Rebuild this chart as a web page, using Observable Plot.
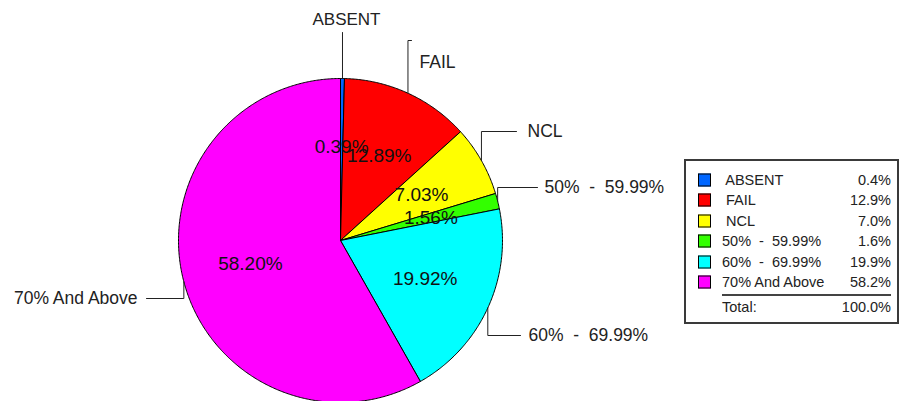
<!DOCTYPE html>
<html><head><meta charset="utf-8">
<script src="https://cdn.jsdelivr.net/npm/d3@7"></script>
<script src="https://cdn.jsdelivr.net/npm/@observablehq/plot@0.6"></script>
<style>
html,body{margin:0;padding:0;background:#fff;}
#wrap{position:relative;width:902px;height:401px;overflow:hidden;font-family:"Liberation Sans",Arial,sans-serif;}
#wrap svg{position:absolute;left:0;top:0;}
#legend{position:absolute;left:684px;top:159px;width:215px;height:165px;box-sizing:border-box;border:2px solid #3a3a3a;background:#fff;font-size:14.5px;color:#222;}
#legend .it{position:absolute;white-space:pre;line-height:1;transform:translateY(-50%);}
#legend .sw{position:absolute;width:13px;height:13px;box-sizing:border-box;border:1px solid #000;transform:translateY(-50%);}
#legend .val{text-align:right;}
#legend .rule{position:absolute;height:2px;background:#444;}
</style></head><body><div id="wrap"></div>
<script>
// ---- data ----
const categories = ["ABSENT", "FAIL", "NCL", "50%  -  59.99%", "60%  -  69.99%", "70% And Above"];
const percents = [0.39, 12.89, 7.03, 1.56, 19.92, 58.20];
const legendLabels = [" ABSENT", " FAIL", " NCL", "50%  -  59.99%", "60%  -  69.99%", "70% And Above"];
const legendValues = ["0.4%", "12.9%", "7.0%", "1.6%", "19.9%", "58.2%"];
const totalLabel = "Total:";
const totalValue = "100.0%";
const colors = ["#0066ff", "#ff0000", "#ffff00", "#33ff00", "#00ffff", "#ff00ff"];

// ---- layout (pixels) ----
const W = 902, H = 401, R = 162, CX = 340, CY = 240;
const px = v => (v - CX) / R;
const py = v => (CY - v) / R;
const leaderLayout = [
  {knee: 32,  end: null, lx: 346, ly: 19,  anchor: "middle"},
  {knee: 40,  end: 411,  lx: 419, ly: 62,  anchor: "start"},
  {knee: 131, end: 516,  lx: 527, ly: 131, anchor: "start"},
  {knee: 187, end: 537,  lx: 544, ly: 187, anchor: "start"},
  {knee: 335, end: 520,  lx: 528, ly: 335, anchor: "start"},
  {knee: 298, end: 146,  lx: 137, ly: 298, anchor: "end"}
];

const total = d3.sum(percents);
let acc = 0;
const slices = categories.map((name, i) => {
  const a0 = acc / total * 2 * Math.PI; acc += percents[i];
  const a1 = acc / total * 2 * Math.PI;
  return {name, i, a0, a1, mid: (a0 + a1) / 2, pct: percents[i]};
});

const wedgePts = [];
for (const s of slices) {
  wedgePts.push({name: s.name, x: 0, y: 0});
  const n = Math.max(2, Math.ceil((s.a1 - s.a0) / (Math.PI / 360)));
  for (let k = 0; k <= n; k++) {
    const a = s.a0 + (s.a1 - s.a0) * k / n;
    wedgePts.push({name: s.name, x: Math.sin(a), y: Math.cos(a)});
  }
  wedgePts.push({name: s.name, x: 0, y: 0});
}

const inner = slices.map(s => ({x: 0.575 * Math.sin(s.mid), y: 0.575 * Math.cos(s.mid), text: s.pct.toFixed(2) + "%"}));

const leaderPts = [], outer = [];
slices.forEach((s, i) => {
  const L = leaderLayout[i];
  const ex = Math.sin(s.mid), ey = Math.cos(s.mid);
  const ky = py(L.knee);
  leaderPts.push({id: i, x: ex, y: ey}, {id: i, x: ex, y: ky});
  if (L.end !== null) leaderPts.push({id: i, x: px(L.end), y: ky});
  outer.push({x: px(L.lx), y: py(L.ly), text: s.name, anchor: L.anchor});
});

const chart = Plot.plot({
  width: W, height: H,
  marginLeft: 0, marginRight: 0, marginTop: 0, marginBottom: 0,
  x: {domain: [px(0), px(W)], axis: null},
  y: {domain: [py(H), py(0)], axis: null},
  color: {domain: categories, range: colors},
  style: {fontFamily: "'Liberation Sans', Arial, sans-serif", background: "#fff", whiteSpace: "pre", overflow: "visible"},
  marks: [
    Plot.line(wedgePts, {x: "x", y: "y", z: "name", fill: "name", stroke: "#000", strokeWidth: 1, curve: "linear"}),
    Plot.text(inner, {x: "x", y: "y", text: "text", fontSize: 19, fill: "#111"}),
    Plot.line(leaderPts, {x: "x", y: "y", z: "id", stroke: "#222", strokeWidth: 1}),
    Plot.text(outer.filter(d => d.anchor === "start"), {x: "x", y: "y", text: "text", textAnchor: "start", fontSize: 17.5, fill: "#222"}),
    Plot.text(outer.filter(d => d.anchor === "middle"), {x: "x", y: "y", text: "text", textAnchor: "middle", fontSize: 17, fill: "#222"}),
    Plot.text(outer.filter(d => d.anchor === "end"), {x: "x", y: "y", text: "text", textAnchor: "end", fontSize: 17.5, fill: "#222", style: "letter-spacing:0.5px"})
  ]
});
const wrap = document.getElementById("wrap");
wrap.appendChild(chart);

// ---- legend (HTML) ----
const lg = document.createElement("div");
lg.id = "legend";
const L0 = {x: 686, y: 161}; // inner origin (after border)
const rowY = i => 180 + i * 20.4 - L0.y;
categories.forEach((c, i) => {
  const sw = document.createElement("div");
  sw.className = "sw"; sw.style.left = (698 - L0.x) + "px"; sw.style.top = rowY(i) + "px";
  sw.style.background = colors[i]; lg.appendChild(sw);
  const lab = document.createElement("div");
  lab.className = "it"; lab.textContent = legendLabels[i];
  lab.style.left = (722 - L0.x) + "px"; lab.style.top = rowY(i) + "px"; lg.appendChild(lab);
  const v = document.createElement("div");
  v.className = "it val"; v.textContent = legendValues[i];
  v.style.right = (L0.x + 211 - 891) + "px"; v.style.top = rowY(i) + "px"; lg.appendChild(v);
});
const rule = document.createElement("div");
rule.className = "rule"; rule.style.left = (722 - L0.x) + "px"; rule.style.width = (891 - 722) + "px"; rule.style.top = (294 - L0.y) + "px";
lg.appendChild(rule);
const tl = document.createElement("div");
tl.className = "it"; tl.textContent = totalLabel; tl.style.left = (722 - L0.x) + "px"; tl.style.top = (307 - L0.y) + "px";
lg.appendChild(tl);
const tv = document.createElement("div");
tv.className = "it val"; tv.textContent = totalValue; tv.style.right = (L0.x + 211 - 891) + "px"; tv.style.top = (307 - L0.y) + "px";
lg.appendChild(tv);
wrap.appendChild(lg);
</script>
</body></html>
